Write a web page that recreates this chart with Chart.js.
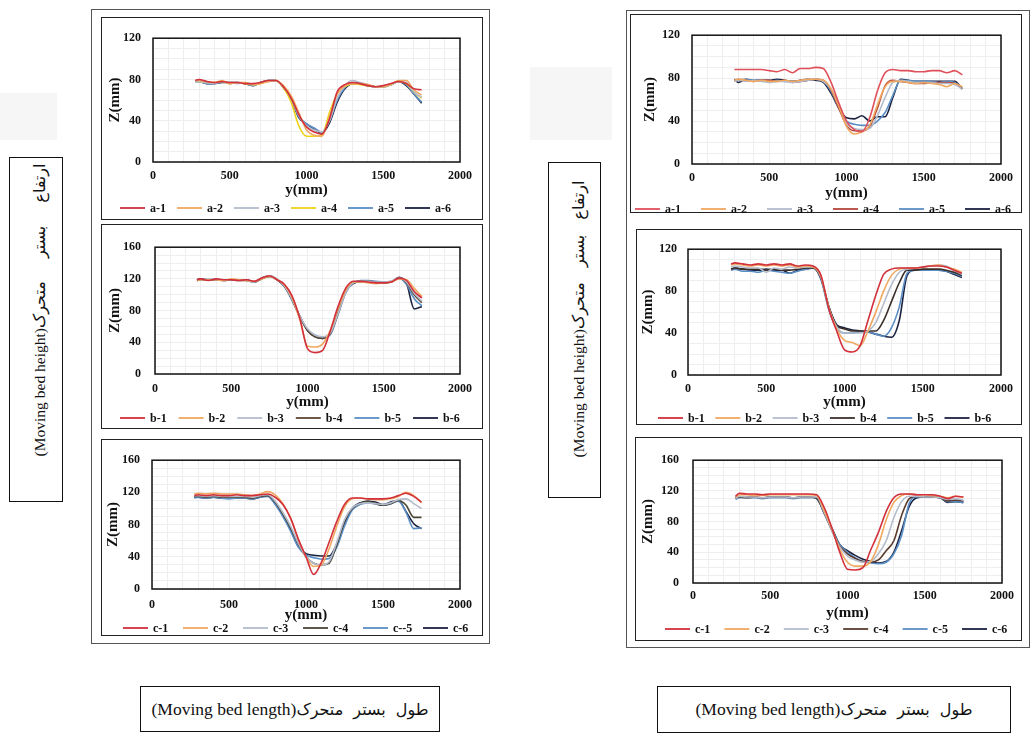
<!DOCTYPE html>
<html><head><meta charset="utf-8">
<script src="https://cdn.jsdelivr.net/npm/chart.js@4.4.1/dist/chart.umd.min.js"></script>
<style>
html,body{margin:0;padding:0;background:#fff;}
body{width:1032px;height:738px;position:relative;overflow:hidden;font-family:'Liberation Serif','Times New Roman',serif;color:#111;}
.bx{position:absolute;box-sizing:border-box;}
.outer{border:1px solid #555;}
.panel{border:1.5px solid #222;}
.lbl{border:1.5px solid #111;background:#fff;}
.faint{background:#f6f6f6;}
.rot{position:absolute;white-space:nowrap;font-size:15.5px;transform:rotate(-90deg);box-sizing:border-box;font-family:'Liberation Serif',serif;}
.hz{position:absolute;left:0;right:0;top:0;bottom:0;display:flex;align-items:center;justify-content:center;white-space:nowrap;font-size:17.5px;font-family:'Liberation Serif',serif;}
.fa{font-family:'DejaVu Sans',sans-serif;}
.cw{position:absolute;}
</style></head><body>

<div class="bx faint" style="left:0;top:93px;width:57px;height:47px"></div>
<div class="bx faint" style="left:530px;top:67px;width:82px;height:73px"></div>

<div class="bx outer" style="left:91px;top:9px;width:399px;height:635px"></div>
<div class="bx outer" style="left:626px;top:10px;width:404px;height:638px"></div>

<div class="bx panel" style="left:101px;top:17px;width:382px;height:203px"></div>
<div class="bx panel" style="left:101px;top:224px;width:382px;height:205px"></div>
<div class="bx panel" style="left:101px;top:439px;width:382px;height:197px"></div>
<div class="bx panel" style="left:630px;top:14px;width:392px;height:199px"></div>
<div class="bx panel" style="left:636px;top:229px;width:386px;height:196px"></div>
<div class="bx panel" style="left:635px;top:437px;width:387px;height:204px"></div>

<div class="bx lbl" style="left:9px;top:157px;width:54px;height:345px">
  <div class="rot" style="left:-145.5px;top:145.5px;width:345px;height:54px;line-height:58px;text-align:right;padding-right:5px">(Moving bed height)<span class="fa" dir="rtl" style="font-size:16px;word-spacing:18px">ارتفاع بستر متحرک</span></div>
</div>
<div class="bx lbl" style="left:548px;top:162px;width:53px;height:336px">
  <div class="rot" style="left:-141.5px;top:141.5px;width:336px;height:53px;line-height:57px;text-align:right;padding-right:17px">(Moving bed height)<span class="fa" dir="rtl" style="font-size:16px;word-spacing:10px">ارتفاع بستر متحرک</span></div>
</div>
<div class="bx lbl" style="left:140px;top:686px;width:300px;height:46px">
  <div class="hz">(Moving bed length)<span class="fa" dir="rtl" style="font-size:16px;word-spacing:5px">طول بستر متحرک</span></div>
</div>
<div class="bx lbl" style="left:657px;top:686px;width:354px;height:47px">
  <div class="hz">(Moving bed length)<span class="fa" dir="rtl" style="font-size:16px;word-spacing:5px">طول بستر متحرک</span></div>
</div>

<script>
// ---------- DATA ----------
const yPosition = [275,300,350,400,450,500,550,600,650,700,750,800,850,900,950,1000,1050,1100,1150,1200,1250,1300,1350,1400,1450,1500,1550,1600,1650,1700,1750];
const xTickLabels = [0,500,1000,1500,2000];
const zTicks120 = [0,40,80,120];
const zTicks160 = [0,40,80,120,160];

// left column, panel a
const la1 = [79,80,78,77,78,77,77,76,76,77,79,79,73,62,46,34,29,27,42,68,75,77,76,74,73,74,76,78,76,71,70];
const la2 = [79,79,78,77,79,76,77,77,75,76,78,79,74,64,48,31,26,25,44,66,74,76,76,75,73,73,75,79,79,70,65];
const la3 = [78,78,77,76,78,77,76,77,75,77,78,79,73,62,45,35,31,29,40,62,74,79,77,75,73,73,75,78,77,68,63];
const la4 = [79,78,77,77,78,76,77,76,75,76,78,79,72,58,35,25,25,26,48,66,73,76,75,74,73,73,75,78,76,68,62];
const la5 = [78,78,76,76,78,76,77,76,74,77,79,79,73,62,44,37,33,29,40,60,72,77,76,74,73,73,75,78,75,66,58];
const la6 = [78,78,76,76,77,77,77,76,74,77,79,79,72,61,43,37,32,28,38,58,71,76,76,74,73,73,75,78,74,66,57];
// left column, panel b
const lb1 = [119,120,118,120,119,119,118,119,117,121,124,119,113,98,70,32,27,30,55,85,108,117,117,116,115,115,116,121,118,104,96];
const lb2 = [118,119,119,119,118,120,119,118,117,120,123,119,112,96,68,35,34,38,55,82,106,116,116,115,114,115,116,120,119,108,98];
const lb3 = [119,119,120,119,119,119,119,118,116,121,124,120,111,94,73,57,49,47,52,76,102,115,117,117,116,116,117,121,116,102,92];
const lb4 = [118,119,119,119,118,119,118,118,116,120,123,119,111,94,72,55,47,45,51,76,103,115,117,117,116,115,116,121,115,100,90];
const lb5 = [118,119,119,120,118,119,119,118,116,121,123,119,110,93,72,56,49,46,50,75,102,115,118,118,117,116,117,121,113,95,86];
const lb6 = [119,120,119,119,119,119,119,119,116,121,124,119,110,93,73,55,47,45,52,78,104,114,116,116,115,115,116,122,114,82,85];
// left column, panel c
const lc1 = [116,117,116,117,116,116,117,116,116,117,118,114,105,88,62,40,18,33,58,84,105,113,113,112,112,112,113,116,119,115,108];
const lc2 = [118,119,118,119,118,118,118,117,116,118,121,117,106,88,62,40,28,30,50,78,102,112,113,112,111,111,112,115,120,116,107];
const lc3 = [116,116,115,116,115,115,115,115,114,116,117,109,95,78,57,40,32,30,34,58,86,101,106,107,106,105,107,111,112,106,100];
const lc4 = [115,115,114,115,114,114,114,114,113,115,116,108,93,76,56,40,32,30,32,55,84,100,106,109,106,104,106,110,104,89,89];
const lc5 = [113,114,113,114,113,112,113,113,112,114,115,105,90,72,52,42,39,37,38,52,78,98,105,107,106,104,106,109,95,75,76];
const lc6 = [114,114,113,114,113,113,113,113,112,114,116,106,92,74,53,44,42,41,41,56,82,100,107,109,108,105,108,110,96,81,75];
// right column, panel a
const ra1 = [88,88,88,88,88,87,86,88,85,89,89,90,89,76,57,40,32,30,43,68,85,88,87,87,86,86,87,87,85,87,83];
const ra2 = [78,79,78,77,78,77,77,78,77,78,79,79,78,70,54,35,28,30,36,55,72,77,77,76,75,76,75,74,72,75,72];
const ra3 = [77,78,77,78,77,76,77,77,76,77,78,79,77,70,55,38,33,32,33,45,62,76,78,77,76,76,76,75,75,74,70];
const ra4 = [78,79,78,77,78,78,77,78,76,77,78,79,78,69,52,36,31,31,35,52,73,78,77,76,75,75,76,76,76,75,70];
const ra5 = [77,78,79,78,78,77,78,77,77,77,78,79,77,68,52,40,37,36,36,40,48,64,78,78,77,77,77,76,77,76,70];
const ra6 = [79,76,79,78,78,78,79,78,77,78,79,78,76,66,52,43,42,45,40,44,44,62,79,78,77,77,77,77,77,77,70];
// right column, panel b
const rb1 = [106,107,106,105,106,105,106,105,106,104,105,104,95,63,42,24,22,28,52,76,96,101,102,102,102,103,104,104,103,100,97];
const rb2 = [105,106,105,104,105,104,105,104,105,103,104,103,94,64,44,33,31,28,42,60,80,95,101,102,102,103,104,105,103,101,98];
const rb3 = [103,104,103,102,102,98,102,101,103,102,103,103,93,64,46,40,40,40,42,50,68,86,98,101,102,103,104,105,104,100,96];
const rb4 = [101,102,101,101,101,100,101,100,100,101,102,102,92,65,47,44,42,42,42,42,52,70,88,100,100,101,101,101,100,98,95];
const rb5 = [100,101,99,99,98,100,99,98,97,99,101,102,91,62,45,40,40,41,41,39,37,45,65,97,100,100,100,100,99,97,94];
const rb6 = [101,102,101,100,100,101,100,100,97,100,101,102,92,65,48,45,43,42,41,39,37,36,52,95,100,100,100,100,99,96,93];
// right column, panel c
const rc1 = [113,117,116,116,115,116,116,116,116,116,116,115,98,71,40,18,17,20,43,66,93,111,116,116,115,115,115,113,110,113,112];
const rc2 = [112,115,115,114,114,115,115,115,115,115,115,114,94,70,44,27,22,22,28,50,82,105,114,116,115,115,114,113,111,113,112];
const rc3 = [110,113,112,112,111,112,112,112,111,112,112,112,92,68,47,35,30,27,28,38,55,85,106,113,113,112,112,111,109,110,108];
const rc4 = [111,112,111,112,111,112,112,112,111,112,112,111,91,68,48,38,32,28,27,30,42,55,88,110,113,112,112,111,107,108,107];
const rc5 = [109,111,111,111,110,111,111,111,110,111,111,111,90,69,50,40,33,28,26,25,27,38,62,104,112,112,112,111,106,106,105];
const rc6 = [111,112,112,112,111,112,112,112,111,112,112,110,91,71,50,42,36,31,28,26,28,40,68,100,111,112,112,111,105,106,105];

const labelsA = ['a-1','a-2','a-3','a-4','a-5','a-6'];
const labelsB = ['b-1','b-2','b-3','b-4','b-5','b-6'];
const labelsCL = ['c-1','c-2','c-3','c-4','c--5','c-6'];
const labelsCR = ['c-1','c-2','c-3','c-4','c-5','c-6'];

// ---------- DRAWING ----------
const FONT = "'Liberation Serif','Times New Roman',serif";
const framePlugin = {id:'frame', afterDatasetsDraw(c){const a=c.chartArea,ctx=c.ctx;ctx.save();ctx.strokeStyle='#111';ctx.lineWidth=1.5;ctx.strokeRect(a.left,a.top,a.right-a.left,a.bottom-a.top);ctx.restore();}};
// line-sample legend drawn in a single row, like the original figure
const lineLegend = {id:'lineLegend', afterDraw(c, args, o){
  const ctx=c.ctx; ctx.save();
  ctx.font='bold 12px '+FONT; ctx.textBaseline='middle'; ctx.textAlign='left';
  c.data.datasets.forEach((d,i)=>{
    const tx=o.x0+i*o.step;
    ctx.strokeStyle=d.borderColor; ctx.lineWidth=1.8;
    ctx.beginPath(); ctx.moveTo(tx-o.gap-o.len,o.y); ctx.lineTo(tx-o.gap,o.y); ctx.stroke();
    ctx.fillStyle='#111'; ctx.fillText(d.label,tx,o.y+0.5);
  });
  ctx.restore();
}};

const panels = [
 {series:[la1,la2,la3,la4,la5,la6], labels:labelsA, zt:zTicks120, box:[101,17,483,220], plot:[153,27,460,162], xlab:176, xt:190, leg:208, ytp:12, ytx:115, lx:150, ls:57,
  colors:['#d2303c','#f0a860','#b4bccc','#efd21a','#5a8ec4','#1b2240']},
 {series:[lb1,lb2,lb3,lb4,lb5,lb6], labels:labelsB, zt:zTicks160, box:[101,224,483,429], plot:[155,240,460,374], xlab:389, xt:402, leg:418, ytp:14, ytx:115, lx:150, ls:58.6,
  colors:['#d2303c','#f0a860','#b4bccc','#5c4632','#5a8ec4','#1b2240']},
 {series:[lc1,lc2,lc3,lc4,lc5,lc6], labels:labelsCL, zt:zTicks160, box:[101,439,483,636], plot:[152,449,461,589], xlab:605, xt:615, leg:628, ytp:12, ytx:113, lx:153, ls:60,
  colors:['#d2303c','#f0a860','#b4bccc','#4a4636','#5a8ec4','#1b2240']},
 {series:[ra1,ra2,ra3,ra4,ra5,ra6], labels:labelsA, zt:zTicks120, box:[630,14,1022,213], plot:[692,25,1003,164], xlab:178, xt:193, leg:209, ytp:12, ytx:650, lx:665, ls:66,
  colors:['#e0505a','#f0a860','#b4bccc','#b5473a','#5a8ec4','#1b2240']},
 {series:[rb1,rb2,rb3,rb4,rb5,rb6], labels:labelsB, zt:zTicks120, box:[636,229,1022,425], plot:[688,242,1002,375], xlab:389, xt:402, leg:418, ytp:11, ytx:648, lx:688, ls:57.3,
  colors:['#d2303c','#f0a860','#b4bccc','#3b2f2a','#5a8ec4','#1b2240']},
 {series:[rc1,rc2,rc3,rc4,rc5,rc6], labels:labelsCR, zt:zTicks160, box:[635,437,1022,641], plot:[693,448,1002,583], xlab:596, xt:613, leg:629, ytp:14, ytx:648, lx:695, ls:59.4,
  colors:['#d2303c','#f0a860','#b4bccc','#5a3b2e','#5a8ec4','#1b2240']}
];

panels.forEach(p => {
  const L = p.box[0]+2, T = p.box[1]+2, W = p.box[2]-p.box[0]-4;
  const plotL = p.plot[0]-L, plotT = p.plot[1]-T, plotR = p.plot[2]-L, plotB = p.plot[3]-T;
  const legRel = p.leg - T;
  const H = Math.round(legRel + 10);
  const tlh = 15*1.2;
  const xtRel = p.xt - T;
  const xH = xtRel + tlh/2 - plotB;
  const padB = H - plotB - xH;
  const wrap = document.createElement('div');
  wrap.className = 'cw';
  wrap.style.left = L+'px'; wrap.style.top = T+'px';
  const cv = document.createElement('canvas');
  cv.width = W; cv.height = H; cv.style.width = W+'px'; cv.style.height = H+'px';
  wrap.appendChild(cv); document.body.appendChild(wrap);
  const zmax = p.zt[p.zt.length-1];
  new Chart(cv, {
    type:'line',
    data:{datasets: p.series.map((s,i)=>({
      label:p.labels[i], data: yPosition.map((x,k)=>({x:x, y:s[k]})),
      borderColor:p.colors[i], backgroundColor:p.colors[i], borderWidth:1.6,
      pointRadius:0, cubicInterpolationMode:'monotone', fill:false
    }))},
    options:{
      responsive:false, animation:false, devicePixelRatio:1,
      layout:{padding:{left:0, top:plotT, right:W-plotR, bottom:padB}},
      plugins:{
        tooltip:{enabled:false},
        legend:{display:false},
        lineLegend:{x0:p.lx-L, step:p.ls, y:legRel, len:25, gap:5}
      },
      scales:{
        x:{type:'linear', min:0, max:2000,
           ticks:{stepSize:100, autoSkip:false, maxRotation:0, color:'#111', font:{family:FONT,size:12,weight:'bold'},
                  padding:(p.xlab - T) - plotB - 7,
                  callback:v => xTickLabels.includes(v) ? String(v) : ''},
           grid:{color:'#eeeeee', lineWidth:1, drawTicks:false}, border:{display:false},
           title:{display:true, text:'y(mm)', color:'#111', font:{family:FONT,size:15,weight:'bold'},
                  padding:{top:0, bottom:0}},
           afterFit: s => { s.height = xH; }
        },
        y:{type:'linear', min:0, max:zmax,
           ticks:{stepSize:10, autoSkip:false, color:'#111', font:{family:FONT,size:12,weight:'bold'}, padding:p.ytp,
                  callback:v => p.zt.includes(v) ? String(v) : ''},
           grid:{color:'#eeeeee', lineWidth:1, drawTicks:false}, border:{display:false},
           title:{display:true, text:'Z(mm)', color:'#111', font:{family:FONT,size:15,weight:'bold'},
                  padding:{top:(p.ytx - L) - tlh/2, bottom:0}},
           afterFit: s => { s.width = plotL; }
        }
      }
    },
    plugins:[framePlugin, lineLegend]
  });
});
</script>
</body></html>
